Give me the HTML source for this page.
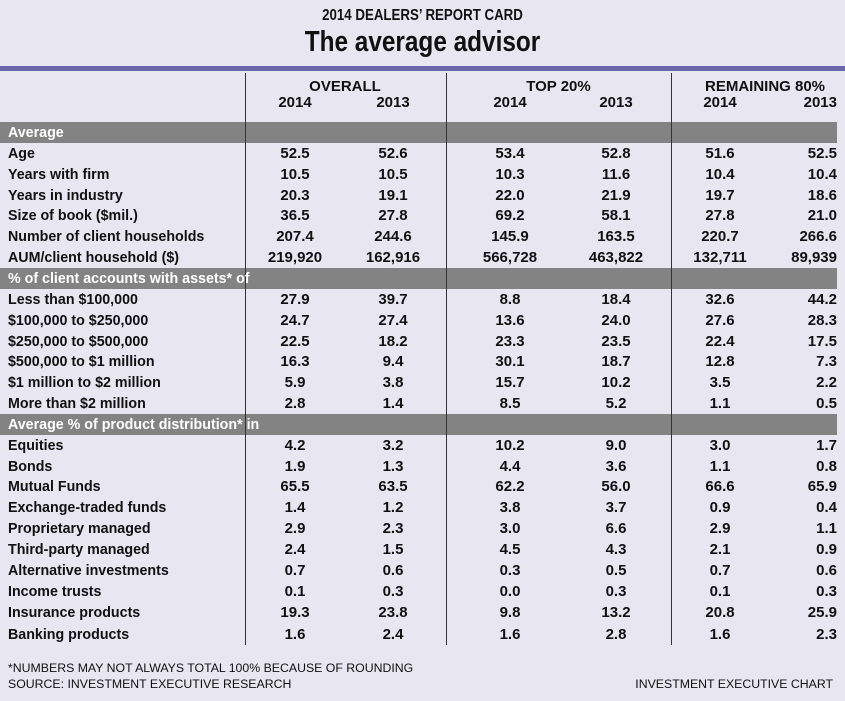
<!DOCTYPE html>
<html><head><meta charset="utf-8"><style>
body{margin:0;background:#e8e6f1;}
#c{position:relative;width:845px;height:701px;background:#e8e6f1;overflow:hidden;font-family:"Liberation Sans",sans-serif;font-weight:bold;color:#111;}
.t{position:absolute;white-space:nowrap;line-height:1;}
.l{position:absolute;left:8px;font-size:15px;white-space:nowrap;line-height:20px;transform:scaleX(0.95);transform-origin:0 0;}
.v{position:absolute;font-size:15px;text-align:center;width:100px;line-height:20px;}
.bar{position:absolute;left:0;width:837px;height:21px;background:#838383;}
.vl{position:absolute;top:73px;height:572px;width:1px;background:#333;}
.f{position:absolute;font-size:12.3px;font-weight:normal;white-space:nowrap;}
</style></head><body><div id="c">
<div class="t" style="left:0;width:845px;text-align:center;top:8px;font-size:16px;transform:scaleX(0.83);">2014 DEALERS’ REPORT CARD</div>
<div class="t" style="left:0;width:845px;text-align:center;top:28px;font-size:29px;transform:scaleX(0.84);">The average advisor</div>
<div style="position:absolute;left:0;top:66px;width:845px;height:5px;background:#6b65a9;"></div>
<div class="t" style="left:245px;width:200px;text-align:center;top:79px;font-size:15px;">OVERALL</div>
<div class="t" style="left:446px;width:225px;text-align:center;top:79px;font-size:15px;">TOP 20%</div>
<div class="t" style="left:690px;width:150px;text-align:center;top:79px;font-size:15px;">REMAINING 80%</div>
<div class="t" style="left:245px;width:100px;text-align:center;top:95px;font-size:15px;">2014</div>
<div class="t" style="left:343px;width:100px;text-align:center;top:95px;font-size:15px;">2013</div>
<div class="t" style="left:460px;width:100px;text-align:center;top:95px;font-size:15px;">2014</div>
<div class="t" style="left:566px;width:100px;text-align:center;top:95px;font-size:15px;">2013</div>
<div class="t" style="left:670px;width:100px;text-align:center;top:95px;font-size:15px;">2014</div>
<div class="t" style="right:8px;top:95px;font-size:15px;">2013</div>
<div class="bar" style="top:122px"></div>
<div class="bar" style="top:268px"></div>
<div class="bar" style="top:414px"></div>
<div class="vl" style="left:245px"></div>
<div class="vl" style="left:446px"></div>
<div class="vl" style="left:671px"></div>
<div id="rows"></div>
<div class="f" style="left:8px;top:661px;">*NUMBERS MAY NOT ALWAYS TOTAL 100% BECAUSE OF ROUNDING</div>
<div class="f" style="left:8px;top:677px;">SOURCE: INVESTMENT EXECUTIVE RESEARCH</div>
<div class="f" style="right:12px;top:677px;">INVESTMENT EXECUTIVE CHART</div>
</div>
<script>
var R=[
["Average"],
["Age","52.5","52.6","53.4","52.8","51.6","52.5"],
["Years with firm","10.5","10.5","10.3","11.6","10.4","10.4"],
["Years in industry","20.3","19.1","22.0","21.9","19.7","18.6"],
["Size of book ($mil.)","36.5","27.8","69.2","58.1","27.8","21.0"],
["Number of client households","207.4","244.6","145.9","163.5","220.7","266.6"],
["AUM/client household ($)","219,920","162,916","566,728","463,822","132,711","89,939"],
["% of client accounts with assets* of"],
["Less than $100,000","27.9","39.7","8.8","18.4","32.6","44.2"],
["$100,000 to $250,000","24.7","27.4","13.6","24.0","27.6","28.3"],
["$250,000 to $500,000","22.5","18.2","23.3","23.5","22.4","17.5"],
["$500,000 to $1 million","16.3","9.4","30.1","18.7","12.8","7.3"],
["$1 million to $2 million","5.9","3.8","15.7","10.2","3.5","2.2"],
["More than $2 million","2.8","1.4","8.5","5.2","1.1","0.5"],
["Average % of product distribution* in"],
["Equities","4.2","3.2","10.2","9.0","3.0","1.7"],
["Bonds","1.9","1.3","4.4","3.6","1.1","0.8"],
["Mutual Funds","65.5","63.5","62.2","56.0","66.6","65.9"],
["Exchange-traded funds","1.4","1.2","3.8","3.7","0.9","0.4"],
["Proprietary managed","2.9","2.3","3.0","6.6","2.9","1.1"],
["Third-party managed","2.4","1.5","4.5","4.3","2.1","0.9"],
["Alternative investments","0.7","0.6","0.3","0.5","0.7","0.6"],
["Income trusts","0.1","0.3","0.0","0.3","0.1","0.3"],
["Insurance products","19.3","23.8","9.8","13.2","20.8","25.9"],
["Banking products","1.6","2.4","1.6","2.8","1.6","2.3"]];
var C=[295,393,510,616,720,null],h="";
R.forEach(function(r,i){var y=122+i*20.85;if(i==24)y+=2;
if(r.length==1){h+='<div class="l" style="top:'+(y+1)+'px;color:#fff">'+r[0]+'</div>';return;}
h+='<div class="l" style="top:'+(y+1)+'px">'+r[0]+'</div>';
for(var j=1;j<7;j++){if(j==6)h+='<div class="v" style="top:'+(y+1)+'px;right:8px;text-align:right">'+r[j]+'</div>';
else h+='<div class="v" style="top:'+(y+1)+'px;left:'+(C[j-1]-50)+'px">'+r[j]+'</div>';}});
document.getElementById('rows').innerHTML=h;
</script>
</body></html>
